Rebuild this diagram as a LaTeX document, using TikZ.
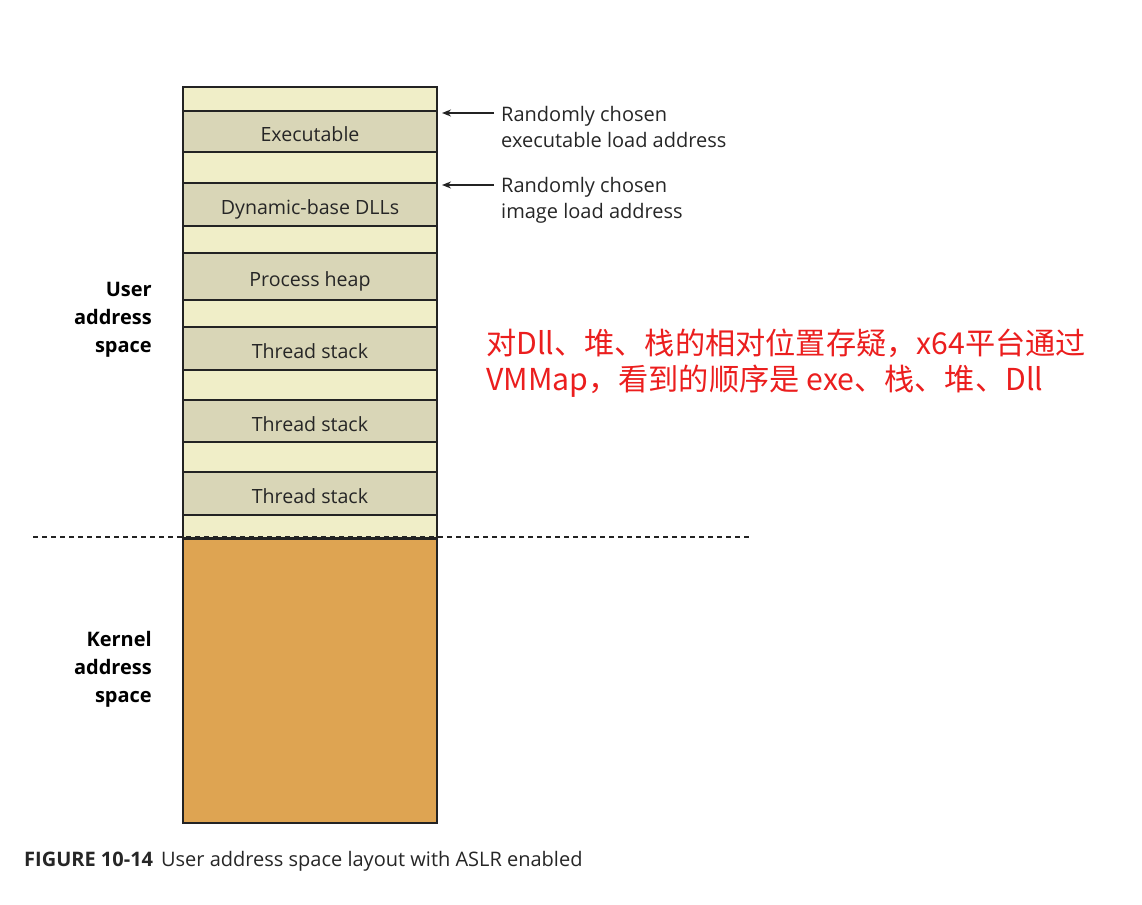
\documentclass[tikz,border=0pt]{standalone}
\usetikzlibrary{arrows.meta}
\usepackage{fontspec}
\setmainfont{Open Sans}
\newfontfamily\cjk{Noto Sans CJK SC}
\definecolor{lightband}{RGB}{240,238,200}
\definecolor{darkband}{RGB}{217,214,183}
\definecolor{kernelfill}{RGB}{222,164,82}
\definecolor{bordergray}{RGB}{35,35,35}
\definecolor{notered}{RGB}{235,30,30}
\begin{document}
\begin{tikzpicture}[x=1pt,y=-1pt,
  band/.style={draw=bordergray,line width=2.4pt,minimum width=254pt,inner sep=0pt,outer sep=0pt,anchor=north west,font=\fontsize{19.6}{24}\selectfont,text=black!85,text height=20pt,text depth=0pt},
  gap/.style={band,fill=lightband},
  blk/.style={band,fill=darkband},
  kern/.style={band,fill=kernelfill},
  side/.style={align=right,anchor=north east,font=\fontsize{20}{28}\selectfont\bfseries,inner sep=0pt},
  note/.style={align=left,anchor=west,font=\fontsize{20}{26}\selectfont,inner sep=0pt,text=black!85},
  ptr/.style={-{Stealth[length=9pt,width=7pt]},line width=1.5pt,bordergray}
]
\useasboundingbox (0,0) rectangle (1142,904);
% user bands
\node[gap,minimum height=24pt] (g1) at (183,87) {};
\node[blk,minimum height=41pt] (exe) at (183,111) {Executable};
\node[gap,minimum height=31pt] (g2) at (183,152) {};
\node[blk,minimum height=43pt] (dll) at (183,183) {Dynamic-base DLLs};
\node[gap,minimum height=27pt] (g3) at (183,226) {};
\node[blk,minimum height=47pt] (heap) at (183,253) {Process heap};
\node[gap,minimum height=27pt] (g4) at (183,300) {};
\node[blk,minimum height=43pt] (ts1) at (183,327) {Thread stack};
\node[gap,minimum height=30pt] (g5) at (183,370) {};
\node[blk,minimum height=42pt] (ts2) at (183,400) {Thread stack};
\node[gap,minimum height=30pt] (g6) at (183,442) {};
\node[blk,minimum height=43pt] (ts3) at (183,472) {Thread stack};
\node[gap,minimum height=23pt] (g7) at (183,515) {};
\node[kern,minimum height=284pt] (kernel) at (183,539) {};
% side labels
\node[side] (user) at (152,282) {User\\address\\space};
\node[side] (klab) at (152,631) {Kernel\\address\\space};
% pointers
\coordinate (p1) at (494,113);
\coordinate (p2) at (494,185);
\draw[ptr] (p1) -- ([xshift=5pt,yshift=-2pt]exe.north east);
\draw[ptr] (p2) -- ([xshift=5pt,yshift=-2pt]dll.north east);
\node[note] (n1) at (501,127) {Randomly chosen\\executable load address};
\node[note] (n2) at (501,200) {Randomly chosen\\image load address};
% red remark
\node[anchor=north west,align=left,inner sep=0pt,text=notered,font=\cjk\fontsize{30.2}{36}\selectfont] (remark) at (486,329) {对Dll、堆、栈的相对位置存疑，x64平台通过\\VMMap，看到的顺序是 exe、栈、堆、Dll};
% boundary
\coordinate (d1) at (33,537);
\coordinate (d2) at (750,537);
\draw[bordergray,line width=2.2pt,dash pattern=on 5pt off 4pt] (d1) -- (d2);
% caption
\node[anchor=west,inner sep=0pt,font=\fontsize{20}{24}\selectfont,text=black!85] (cap) at (24,861) {\textbf{FIGURE 10-14}\hspace{0.4em}User address space layout with ASLR enabled};
\end{tikzpicture}
\end{document}
